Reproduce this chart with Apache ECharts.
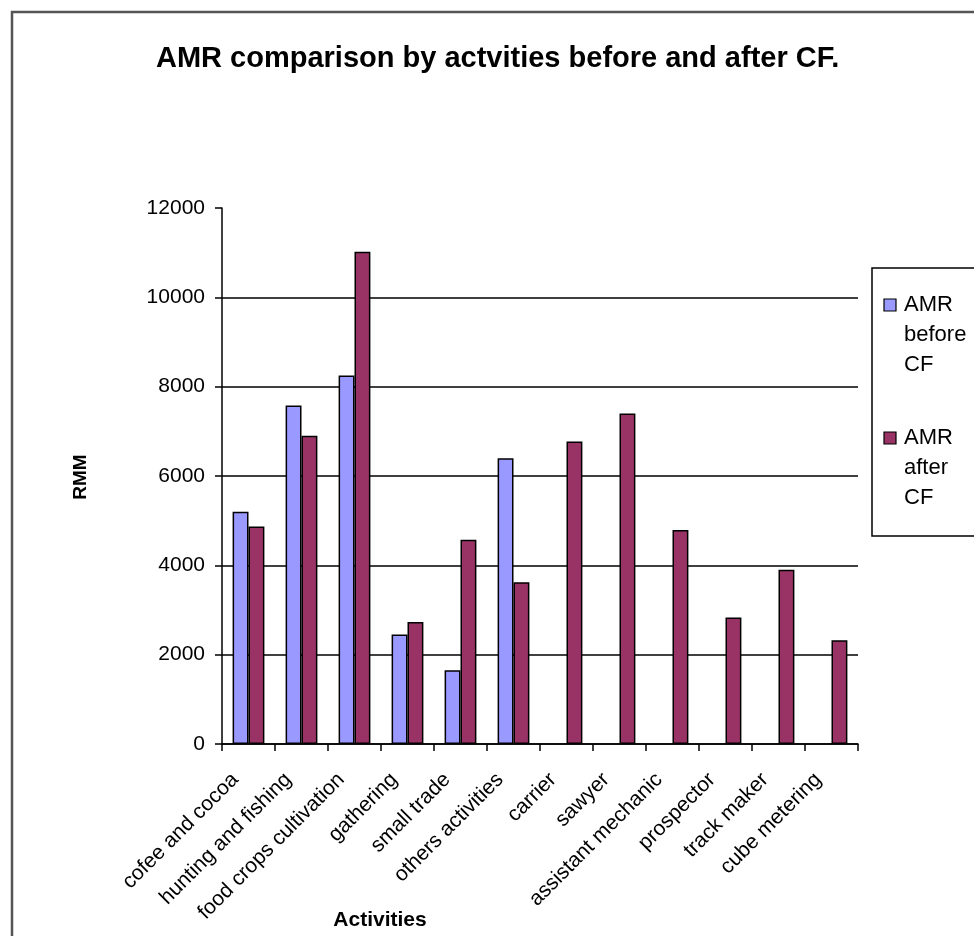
<!DOCTYPE html>
<html>
<head>
<meta charset="utf-8">
<script src="https://cdn.jsdelivr.net/npm/echarts@6/dist/echarts.min.js"></script>
<style>
html,body{margin:0;padding:0;background:#fff;}
#chart{width:974px;height:936px;}
</style>
</head>
<body>
<div id="chart"></div>
<script>
var titleText = 'AMR comparison by actvities before and after CF.';
var categories = ['cofee and cocoa','hunting and fishing','food crops cultivation','gathering','small trade','others activities','carrier','sawyer','assistant mechanic','prospector','track maker','cube metering'];
var seriesNames = ['AMR before CF','AMR after CF'];
var legendLines = [['AMR','before','CF'],['AMR','after','CF']];
var amrBefore = [5200, 7580, 8250, 2450, 1650, 6400, null, null, null, null, null, null];
var amrAfter = [4870, 6900, 11020, 2730, 4570, 3620, 6770, 7400, 4790, 2830, 3900, 2320];
var yTicks = [0, 2000, 4000, 6000, 8000, 10000, 12000];
var xAxisTitle = 'Activities';
var yAxisTitle = 'RMM';

var colors = ['#9999FF', '#993366'];
var FONT = 'Liberation Sans, Arial, sans-serif';

var chart = echarts.init(document.getElementById('chart'), null, {renderer: 'canvas'});

var legendGraphics = [];
var legendTops = [305, 438];
for (var i = 0; i < 2; i++) {
  legendGraphics.push({
    type: 'rect',
    shape: {x: 884, y: legendTops[i] - 6, width: 12, height: 12},
    style: {fill: colors[i], stroke: '#000', lineWidth: 1.2},
    z: 10
  });
  for (var j = 0; j < legendLines[i].length; j++) {
    legendGraphics.push({
      type: 'text',
      x: 904, y: legendTops[i] + j * 30,
      style: {text: legendLines[i][j], font: '22px ' + FONT, fill: '#000',
        align: 'left', verticalAlign: 'middle', textAlign: 'left', textVerticalAlign: 'middle'},
      z: 10
    });
  }
}

var option = {
  backgroundColor: '#fff',
  animation: false,
  title: {
    text: titleText,
    left: 151, top: 39,
    textStyle: {fontFamily: FONT, fontWeight: 'bold', fontSize: 29, color: '#000'}
  },
  grid: {left: 222, right: 116, top: 208, bottom: 192, containLabel: false},
  xAxis: {
    type: 'category',
    data: categories,
    axisLine: {show: true, lineStyle: {color: '#000', width: 1.5}},
    axisTick: {show: true, length: 7, lineStyle: {color: '#000', width: 1.5}, alignWithLabel: false},
    axisLabel: {rotate: 45, interval: 0, margin: 19, padding: [0, 19, 0, 0], fontFamily: FONT, fontSize: 21, color: '#000'},
    splitLine: {show: false}
  },
  yAxis: {
    type: 'value',
    min: yTicks[0], max: yTicks[yTicks.length - 1], interval: yTicks[1] - yTicks[0],
    axisLine: {show: true, lineStyle: {color: '#000', width: 1.5}},
    axisTick: {show: true, length: 7, lineStyle: {color: '#000', width: 1.5}},
    axisLabel: {margin: 17, fontFamily: FONT, fontSize: 21, color: '#000', formatter: function (v) { return String(v); }},
    splitLine: {show: true, showMaxLine: false, lineStyle: {color: '#000', width: 1.5}}
  },
  series: [
    {
      name: seriesNames[0], type: 'bar', data: amrBefore,
      barGap: '0%', barCategoryGap: '40%',
      itemStyle: {color: colors[0], borderColor: '#000', borderWidth: 1.5}
    },
    {
      name: seriesNames[1], type: 'bar', data: amrAfter,
      barGap: '0%', barCategoryGap: '40%',
      itemStyle: {color: colors[1], borderColor: '#000', borderWidth: 1.5}
    }
  ],
  graphic: [
    {
      type: 'rect',
      shape: {x: 12, y: 12, width: 1000, height: 1000},
      style: {fill: 'none', stroke: '#555', lineWidth: 2.5},
      z: 0
    },
    {
      type: 'rect',
      shape: {x: 872, y: 268, width: 200, height: 268},
      style: {fill: '#fff', stroke: '#000', lineWidth: 1.5},
      z: 5
    },
    {
      type: 'text',
      x: 380, y: 920,
      style: {text: xAxisTitle, font: 'bold 21px ' + FONT, fill: '#000',
        align: 'center', verticalAlign: 'middle', textAlign: 'center', textVerticalAlign: 'middle'}
    },
    {
      type: 'text',
      x: 81, y: 477, rotation: Math.PI / 2,
      style: {text: yAxisTitle, font: 'bold 19px ' + FONT, fill: '#000',
        align: 'center', verticalAlign: 'middle', textAlign: 'center', textVerticalAlign: 'middle'}
    }
  ].concat(legendGraphics)
};
chart.setOption(option);
</script>
</body>
</html>
